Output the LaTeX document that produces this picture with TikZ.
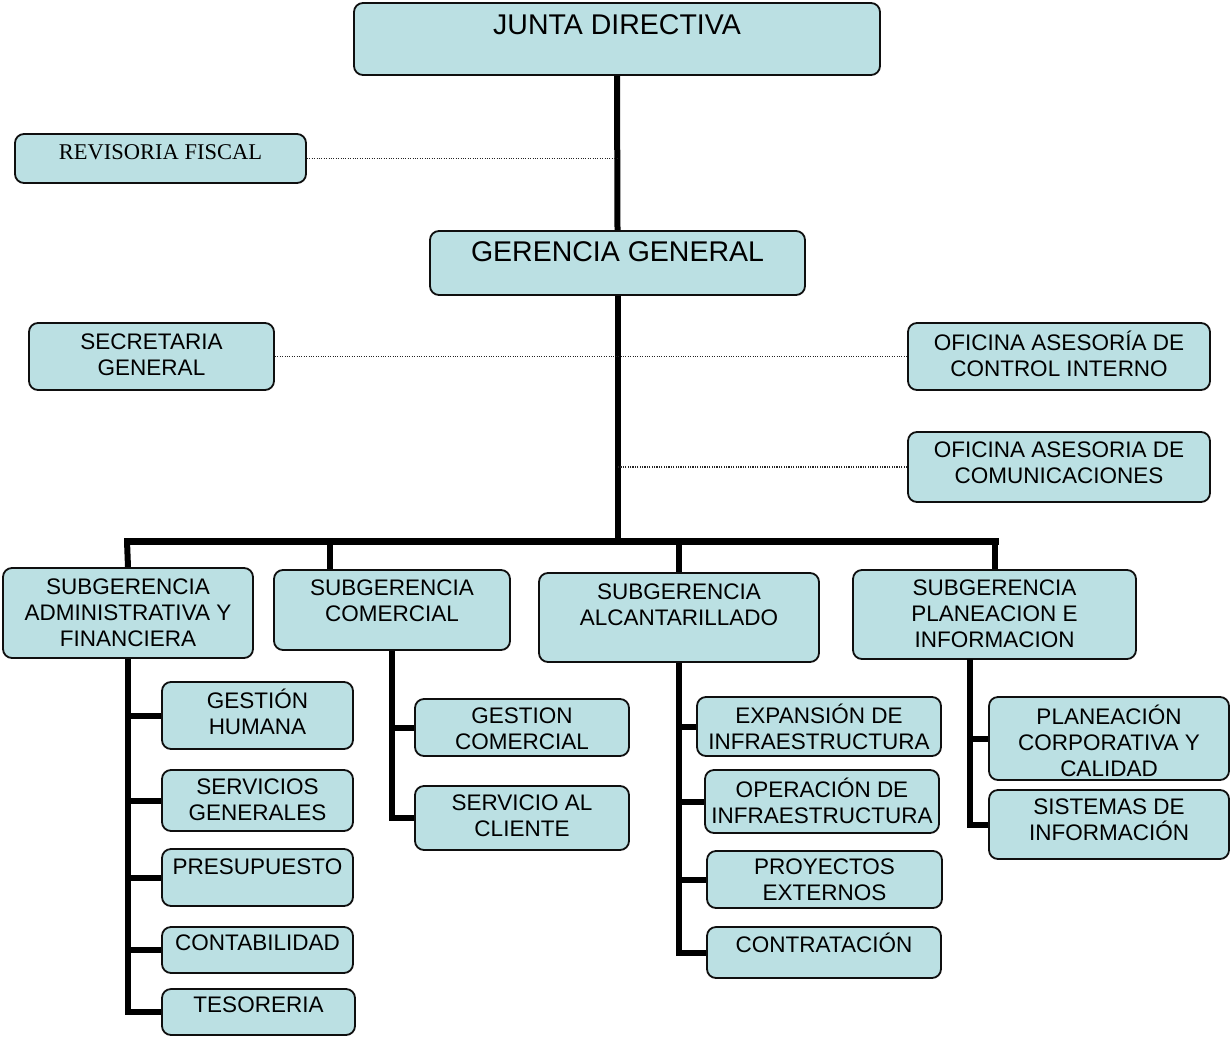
\documentclass[tikz,border=0pt]{standalone}
\usepackage{fontspec}
\setmainfont{Liberation Sans}
\newfontfamily\timesf{Liberation Serif}
\definecolor{boxblue}{RGB}{187,224,227}
\definecolor{edge}{RGB}{15,15,15}
\newcommand\obox[8][]{%
  \node[box,minimum width={#5-#3},minimum height={#6-#4}] (#2) at ({(#3+#5)/2},{(#4+#6)/2}) {};
  \node[txt,#1] (#2-t) at ({(#3+#5)/2},#7) {#8};}
\begin{document}
\begin{tikzpicture}[x=1pt,y=-1pt,
  box/.style={draw=edge,line width=1.8pt,rounded corners=9pt,fill=boxblue,inner sep=0pt},
  txt/.style={align=center,inner sep=0pt,font=\fontsize{22.5}{26}\selectfont},
  big/.style={font=\fontsize{28.5}{32}\selectfont},
  serif/.style={font=\timesf\fontsize{22.5}{26}\selectfont},
  trunk/.style={line width=6pt,black},
  busline/.style={line width=7pt,black},
  link/.style={line width=6pt,black},
  dots/.style={line width=1.1pt,black!85,dash pattern=on 1.1pt off 1.3pt}]
\useasboundingbox[fill=white] (0,0) rectangle (1230,1036);
% boxes
\obox[big]{junta}{354}{3}{880}{75}{25}{JUNTA DIRECTIVA}
\obox[serif]{revisoria}{15}{134}{306}{183}{152}{REVISORIA FISCAL}
\obox[big]{gerencia}{430}{231}{805}{295}{252}{GERENCIA GENERAL}
\obox{secretaria}{29}{323}{274}{390}{355}{SECRETARIA\\GENERAL}
\obox{ofci}{908}{323}{1210}{390}{354}{OFICINA ASESORÍA DE\\CONTROL INTERNO}
\obox{ofcom}{908}{432}{1210}{502}{462.5}{OFICINA ASESORIA DE\\COMUNICACIONES}
\obox{subadm}{3}{568}{253}{658}{613}{SUBGERENCIA\\ADMINISTRATIVA Y\\FINANCIERA}
\obox{subcom}{274}{570}{510}{650}{601}{SUBGERENCIA\\COMERCIAL}
\obox{subalc}{539}{573}{819}{662}{605}{SUBGERENCIA\\ALCANTARILLADO}
\obox{subplan}{853}{570}{1136}{659}{614}{SUBGERENCIA\\PLANEACION E\\INFORMACION}
\obox{gh}{162}{682}{353}{749}{712}{GESTIÓN\\HUMANA}
\obox{sg}{162}{770}{353}{831}{800}{SERVICIOS\\GENERALES}
\obox{pres}{162}{849}{353}{906}{867}{PRESUPUESTO}
\obox{cont}{162}{927}{353}{973}{943}{CONTABILIDAD}
\obox{teso}{162}{989}{355}{1035}{1005}{TESORERIA}
\obox{gc}{415}{699}{629}{756}{729}{GESTION\\COMERCIAL}
\obox{sac}{415}{786}{629}{850}{816}{SERVICIO AL\\CLIENTE}
\obox{exp}{697}{697}{941}{756}{726.5}{EXPANSIÓN DE\\INFRAESTRUCTURA}
\obox{ope}{705}{770}{939}{833}{800.5}{OPERACIÓN DE\\INFRAESTRUCTURA}
\obox{proy}{707}{851}{942}{908}{879.5}{PROYECTOS\\EXTERNOS}
\obox{contr}{707}{927}{941}{978}{943}{CONTRATACIÓN}
\obox{pc}{989}{697}{1229}{780}{741}{PLANEACIÓN\\CORPORATIVA Y\\CALIDAD}
\obox{si}{989}{790}{1229}{859}{820}{SISTEMAS DE\\INFORMACIÓN}
% coordinates
\coordinate (busL) at (127,541);
\coordinate (busR) at (995,541);
\coordinate (busM) at (gerencia.south |- busL);
\coordinate (comdrop) at (330,541);
\coordinate (plantrunk) at (970,659);
% main line
\draw[trunk] (junta.south) -- (gerencia.north);
\draw[trunk] (gerencia.south) -- (busM);
\draw[busline,line cap=rect] (busL) -- (busR);
\draw[link] (busL) -- (subadm.north);
\draw[link] (comdrop) -- (comdrop |- subcom.north);
\draw[link] (subalc.north |- busL) -- (subalc.north);
\draw[link] (busR) -- (busR |- subplan.north);
% dotted staff links
\draw[dots] (revisoria.east) -- (revisoria.east -| junta.south);
\draw[dots] (secretaria.east) -- (ofci.west);
\draw[dots] (ofcom.west) -- (ofcom.west -| gerencia.south);
% admin branch
\draw[trunk,line join=miter] (subadm.south) |- (teso.west);
\foreach \n in {gh,sg,pres,cont}{\draw[link] (subadm.south |- \n.west) -- (\n.west);}
% comercial branch
\draw[trunk,line join=miter] (subcom.south) |- (sac.west);
\draw[link] (subcom.south |- gc.west) -- (gc.west);
% alcantarillado branch
\draw[trunk,line join=miter] (subalc.south) |- (contr.west);
\foreach \n in {exp,ope,proy}{\draw[link] (subalc.south |- \n.west) -- (\n.west);}
% planeacion branch
\draw[trunk,line join=miter] (plantrunk) |- (si.west);
\draw[link] (plantrunk |- pc.west) -- (pc.west);
\end{tikzpicture}
\end{document}
